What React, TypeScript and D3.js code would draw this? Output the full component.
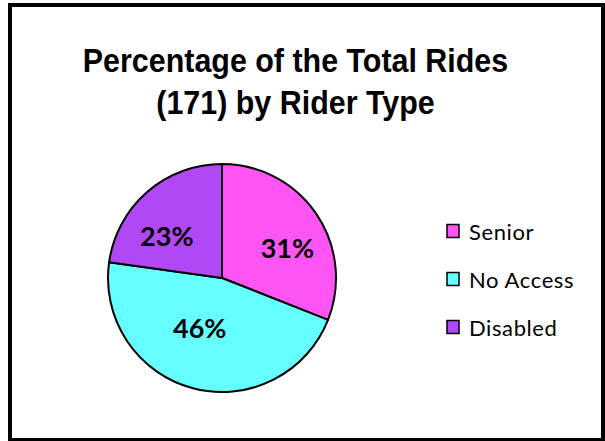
import React from "react";
import * as d3 from "d3";

const categories = ["Senior", "No Access", "Disabled"];
const rides = [53, 79, 39];
const colors = ["#FF55F5", "#66FFFF", "#B048F5"];
const titleLines = ["Percentage of the Total Rides", "(171) by Rider Type"];
// label nudges (px) from the arc centroid, matching the reference's label placement
const labelNudge = [
  [6, 10],
  [-4, -20],
  [-8, 12],
];

const W = 605;
const H = 441;

export default function App() {
  const cx = 222;
  const cy = 278;
  const R = 114;
  const total = d3.sum(rides);
  const pie = d3
    .pie<number>()
    .sort(null)
    .value((d) => d);
  const arcs = pie(rides);
  const arc = d3.arc<d3.PieArcDatum<number>>().innerRadius(0).outerRadius(R);
  const labelArc = d3
    .arc<d3.PieArcDatum<number>>()
    .innerRadius(R * 0.63)
    .outerRadius(R * 0.63);
  const fmt = (v: number) => `${Math.round((v / total) * 100)}%`;

  const legendY = d3.scalePoint<string>().domain(categories).range([231, 327]);
  const sx = 0.895;
  const titleX = 295.5;

  return (
    <svg
      width={W}
      height={H}
      style={{ position: "fixed", left: 0, top: 0, background: "#fff" }}
    >
      <rect x={0} y={0} width={W} height={H} fill="#fff" />
      <rect
        x={10}
        y={5}
        width={593}
        height={435}
        fill="#fff"
        stroke="#000"
        strokeWidth={4}
      />
      <g
        transform={`translate(${titleX},0) scale(${sx},1)`}
        fontFamily="'Liberation Sans', Arial, sans-serif"
        fontWeight="bold"
        fontSize={34}
        textAnchor="middle"
        fill="#000"
      >
        {titleLines.map((t, i) => (
          <text key={i} x={0} y={72 + i * 42}>
            {t}
          </text>
        ))}
      </g>
      <g transform={`translate(${cx},${cy})`}>
        {arcs.map((a, i) => (
          <path
            key={i}
            d={arc(a) || ""}
            fill={colors[i]}
            stroke="#000"
            strokeWidth={2}
            strokeLinejoin="round"
          />
        ))}
        {arcs.map((a, i) => {
          const [x, y] = labelArc.centroid(a);
          return (
            <text
              key={i}
              x={x + labelNudge[i][0]}
              y={y + labelNudge[i][1]}
              textAnchor="middle"
              dominantBaseline="central"
              fontFamily="Lato, 'Open Sans', sans-serif"
              fontWeight="bold"
              fontSize={27}
              fill="#000"
            >
              {fmt(a.data)}
            </text>
          );
        })}
      </g>
      <g
        fontFamily="Lato, 'Open Sans', sans-serif"
        fontSize={22}
        letterSpacing={0.6}
        fill="#000"
      >
        {categories.map((c, i) => {
          const y = legendY(c) as number;
          return (
            <g key={c}>
              <rect
                x={447}
                y={y - 6.5}
                width={12}
                height={13}
                fill={colors[i]}
                stroke="#000"
                strokeWidth={1.5}
              />
              <text x={469} y={y} dominantBaseline="central">
                {c}
              </text>
            </g>
          );
        })}
      </g>
    </svg>
  );
}
